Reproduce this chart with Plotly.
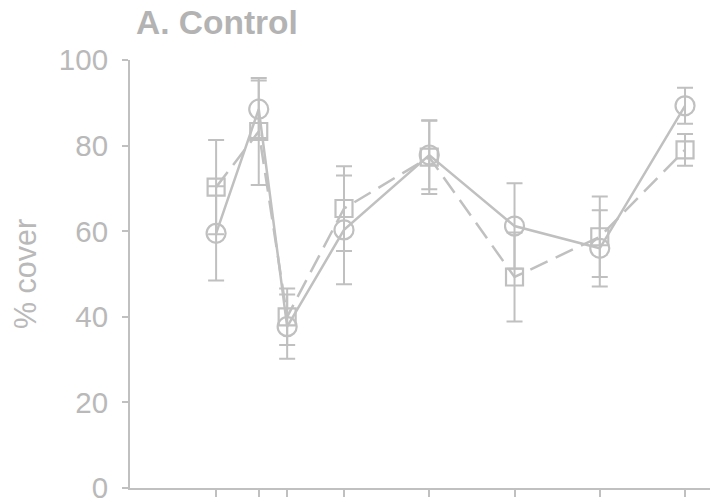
import plotly.graph_objects as go

days = [0, 15, 25, 45, 75, 105, 135, 165]
circle_mean = [59.5, 88.5, 37.7, 60.3, 77.8, 61.2, 56.0, 89.3]
circle_se = [11.0, 6.7, 7.5, 12.7, 8.0, 10.0, 8.9, 4.2]
square_mean = [70.3, 83.3, 40.0, 65.3, 77.3, 49.3, 58.7, 79.0]
square_se = [11.0, 12.5, 6.6, 9.9, 8.6, 10.4, 9.4, 3.7]
y_ticks = [0, 20, 40, 60, 80, 100]

LINE = "#c0c0c0"
TEXT = "#b9b9b9"

fig = go.Figure()
fig.add_trace(go.Scatter(
    x=days, y=square_mean, mode="lines+markers",
    line=dict(color=LINE, width=2.5, dash="19px,9px"),
    marker=dict(symbol="square-open", size=17, color=LINE, line=dict(width=2.2, color=LINE)),
    error_y=dict(type="data", array=square_se, color=LINE, thickness=2, width=8),
    showlegend=False, cliponaxis=False,
))
fig.add_trace(go.Scatter(
    x=days, y=circle_mean, mode="lines+markers",
    line=dict(color=LINE, width=2.5),
    marker=dict(symbol="circle-open", size=19, color=LINE, line=dict(width=2.2, color=LINE)),
    error_y=dict(type="data", array=circle_se, color=LINE, thickness=2, width=8),
    showlegend=False, cliponaxis=False,
))

W, H = 710, 494
fig.update_layout(
    width=W, height=H,
    margin=dict(l=122, r=0, t=52, b=14, autoexpand=False),
    plot_bgcolor="white", paper_bgcolor="white",
    font=dict(family="Liberation Sans, Arial, sans-serif", color=TEXT, size=29.5),
    title=dict(text="<b>A. Control</b>", x=128/W, xanchor="left", xref="container",
               y=1 - 14/H, yanchor="middle", yref="container", automargin=False,
               font=dict(size=33.5, color="#b3b3b3")),
    xaxis=dict(range=[-30.3, 176.6], tickvals=days, ticktext=[""] * len(days),
               showgrid=False, zeroline=False, showline=True, linecolor=LINE, linewidth=2,
               ticks="outside", ticklen=7, tickwidth=2, tickcolor=LINE, automargin=False),
    yaxis=dict(range=[0, 100], tickvals=y_ticks, showgrid=False, zeroline=False,
               showline=True, linecolor=LINE, linewidth=2, automargin=False,
               ticks="outside", ticklen=6, tickwidth=2, tickcolor=LINE,
               ticklabelstandoff=8, ticklabeloverflow="allow",
               title=dict(text="% cover", font=dict(size=30.5, color=TEXT), standoff=22)),
)
fig.write_html("out.html")
